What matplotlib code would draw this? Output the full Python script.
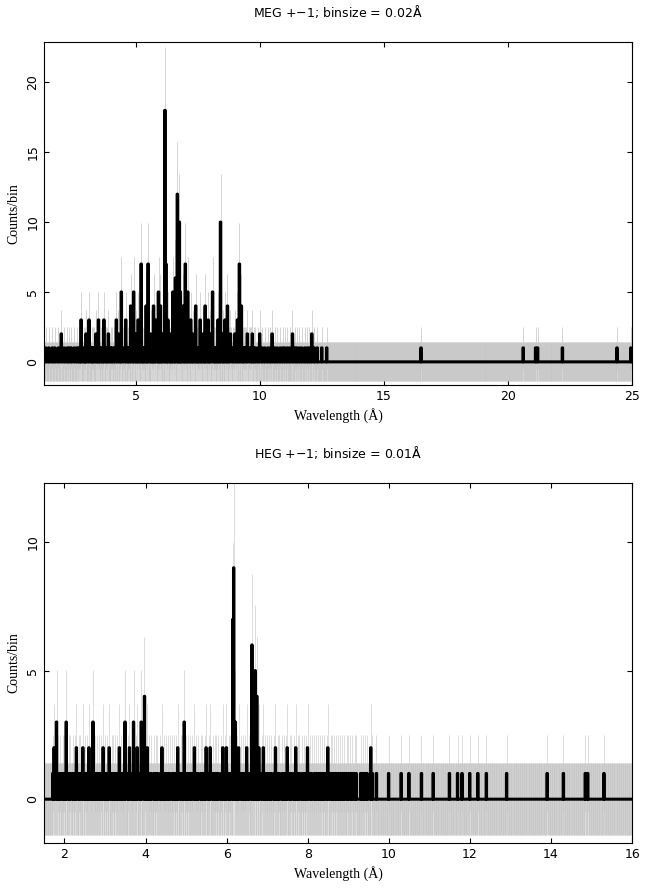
import numpy as np
import matplotlib
matplotlib.use("Agg")
import matplotlib.pyplot as plt

# MEG: (wavelength, counts) of non-zero bins
meg_wl = [1.5,2.0,2.1,2.4,2.6,2.8,3.0,3.1,3.3,3.4,3.5,3.6,3.7,3.9,4.0,4.2,4.3,4.4,4.5,4.6,4.8,4.9,5.0,5.1,5.2,5.3,5.4,5.5,5.6,5.7,5.8,5.9,6.0,6.1,6.18,6.22,6.3,6.4,6.5,6.6,6.66,6.7,6.74,6.8,6.9,7.0,7.1,7.2,7.3,7.4,7.5,7.6,7.7,7.8,7.9,8.0,8.1,8.2,8.3,8.42,8.5,8.6,8.7,8.8,8.9,9.0,9.1,9.17,9.25,9.4,9.5,9.6,9.7,9.8,10.0,10.1,10.3,10.5,10.7,10.9,11.1,11.3,11.5,11.7,11.9,12.1,12.3,12.7,16.5,20.6,21.1,21.2,22.2,24.4,24.95]
meg_ct = [1,2,1,1,1,3,2,3,1,2,3,1,3,2,1,3,2,5,1,3,4,5,2,3,7,1,4,7,2,4,3,5,4,2,18,7,3,2,5,6,12,8,10,5,4,7,5,3,2,4,1,3,2,4,3,2,5,1,3,10,2,3,4,2,1,2,3,7,4,1,2,1,2,1,2,1,1,2,1,1,1,2,1,1,1,2,1,1,1,1,1,1,1,1,1]
meg_ones = [1.36,1.62,1.74,1.86,2.22,2.32,2.52,2.68,2.74,2.9,2.96,3.2,3.26,3.44,3.54,3.66,3.8,3.86,4.06,4.12,4.36,4.52,4.66,4.72,4.86,5.04,5.14,5.24,5.34,5.44,5.62,5.66,5.76,5.86,5.96,6.04,6.26,6.36,6.46,6.56,6.84,6.94,7.04,7.14,7.24,7.34,7.44,7.54,7.64,7.74,7.84,7.96,8.06,8.16,8.26,8.36,8.54,8.64,8.76,8.84,8.96,9.04,9.3,9.36,9.44,9.56,9.66,9.76,9.9,10.2,10.4,10.6,10.8,11.0,11.2,11.4,11.6,11.8,12.0,12.2,12.5]

# HEG
heg_wl = [1.75,1.8,1.9,2.05,2.2,2.3,2.45,2.6,2.7,2.8,2.95,3.1,3.3,3.35,3.5,3.6,3.7,3.8,3.9,3.97,4.05,4.2,4.4,4.6,4.8,4.95,5.05,5.2,5.3,5.5,5.6,5.75,5.9,6.0,6.15,6.18,6.22,6.3,6.4,6.5,6.62,6.66,6.7,6.74,6.8,6.9,7.0,7.2,7.4,7.5,7.7,7.8,8.0,8.2,8.4,8.5,8.7,8.9,9.05,9.2,9.4,9.55,9.7,10.0,10.3,10.5,10.8,11.1,11.5,11.7,11.8,12.0,12.2,12.4,12.9,13.9,14.3,14.85,14.9,15.3]
heg_ct = [2,3,1,3,1,2,2,2,3,1,2,2,1,2,3,2,3,2,3,4,2,1,2,1,2,3,1,2,1,2,2,1,2,2,7,9,3,2,1,2,6,3,5,4,2,2,1,2,1,2,2,1,2,1,1,2,1,1,1,1,1,2,1,1,1,1,1,1,1,1,1,1,1,1,1,1,1,1,1,1]
heg_ones = [1.72,1.84,1.96,2.0,2.1,2.14,2.26,2.36,2.4,2.52,2.56,2.66,2.76,2.86,2.9,3.0,3.04,3.16,3.2,3.26,3.4,3.44,3.56,3.66,3.76,3.86,4.0,4.1,4.14,4.26,4.3,4.36,4.46,4.5,4.56,4.66,4.7,4.76,4.86,4.9,5.0,5.1,5.14,5.26,5.36,5.4,5.46,5.56,5.66,5.7,5.8,5.86,5.96,6.06,6.1,6.26,6.36,6.46,6.56,6.86,6.96,7.06,7.1,7.16,7.26,7.3,7.36,7.46,7.56,7.6,7.66,7.76,7.86,7.9,7.96,8.06,8.1,8.16,8.26,8.3,8.36,8.46,8.56,8.6,8.66,8.76,8.8,8.86,8.96,9.0,9.1,9.16,9.3,9.36,9.46,9.6]

def build(lo, hi, dw, wl, ct, ones):
    centers = np.arange(lo, hi, dw) + dw/2
    counts = np.zeros_like(centers)
    for w in ones:
        counts[int((w-lo)//dw)] = 1
    for w, c in zip(wl, ct):
        counts[int((w-lo)//dw)] = c
    return centers, counts

def err(c):
    e = np.sqrt(c) + 0.3
    e[c == 0] = 1.4
    e[c == 1] = 1.5
    return e

fig = plt.figure(figsize=(6.49, 8.91), dpi=100)
ax1 = fig.add_axes([0.068, 0.568, 0.906, 0.385])
ax2 = fig.add_axes([0.068, 0.054, 0.906, 0.404])

panels = [
    (ax1, build(1.0, 25.2, 0.02, meg_wl, meg_ct, meg_ones), (1.3, 25), (-1.65, 22.9), [0,5,10,15,20], [5,10,15,20,25], r"MEG +$-$1; binsize = 0.02Å", 0.5),
    (ax2, build(1.5, 16.2, 0.01, heg_wl, heg_ct, heg_ones), (1.5, 16), (-1.7, 12.3), [0,5,10], [2,4,6,8,10,12,14,16], r"HEG +$-$1; binsize = 0.01Å", 0.4),
]
for ax, (x, c), xl, yl, yt, xt, title, lw in panels:
    e = err(c)
    ax.vlines(x, c - e, c + e, color="#c4c4c4", lw=lw)
    ax.plot(x, c, drawstyle="steps-mid", color="black", lw=2.2)
    ax.set_xlim(*xl); ax.set_ylim(*yl)
    ax.set_yticks(yt); ax.set_xticks(xt)
    ax.tick_params(direction="in", top=True, right=True, labelsize=9)
    for lab in ax.get_yticklabels():
        lab.set_rotation(90); lab.set_va("center")
    ax.set_xlabel("Wavelength (Å)", family="Liberation Serif", fontsize=10)
    ax.set_ylabel("Counts/bin", family="Liberation Serif", fontsize=10)
    ax.set_title(title, fontsize=9, pad=18)

fig.savefig("out.png", dpi=100)
